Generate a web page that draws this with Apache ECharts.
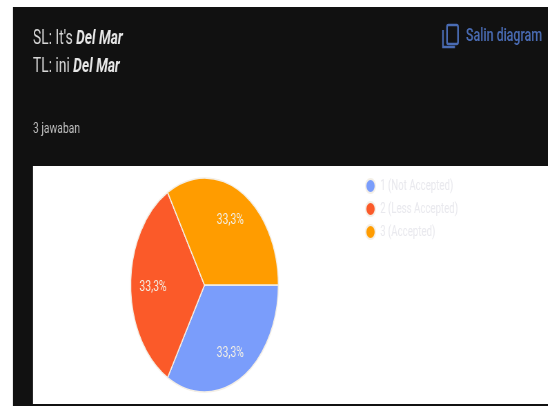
<!DOCTYPE html>
<html>
<head>
<meta charset="utf-8">
<style>
  html, body { margin: 0; padding: 0; width: 548px; height: 406px; overflow: hidden; background: #fff; }
  /* The response card is drawn wide, then condensed horizontally as a whole. */
  #chart { width: 794px; height: 406px; transform-origin: 0 0; transform: scaleX(0.69); }
</style>
<script src="https://cdn.jsdelivr.net/npm/echarts@6/dist/echarts.min.js"></script>
</head>
<body>
<div id="chart"></div>
<script>
const categories = ['1 (Not Accepted)', '2 (Less Accepted)', '3 (Accepted)'];
const responses = [1, 1, 1];
const sliceColors = ['#7a9dfb', '#fb5a29', '#ff9c00'];
const percentLabels = ['33,3%', '33,3%', '33,3%'];

const SQUEEZE = 0.69;
const sx = x => x / SQUEEZE;
const FONT = 'Roboto, sans-serif';
const PIE_RADIUS = 107;

const chart = echarts.init(document.getElementById('chart'), null, { renderer: 'canvas' });

const headingRich = {
  n: { fontFamily: FONT, fontSize: 20, fill: '#d8d8d8', fontWeight: 400 },
  i: { fontFamily: FONT, fontSize: 20, fill: '#e8e8e8', fontWeight: 700, fontStyle: 'italic' }
};

chart.setOption({
  animation: false,
  textStyle: { fontFamily: FONT },
  graphic: [
    { type: 'rect', z: 0, shape: { x: sx(13), y: 7, width: sx(535), height: 399 }, style: { fill: '#111111' } },
    { type: 'rect', z: 1, shape: { x: sx(33), y: 166, width: sx(515), height: 238 }, style: { fill: '#ffffff' } },
    {
      type: 'text', z: 2, x: sx(33), y: 39,
      style: { text: "{n|SL: It's }{i|Del Mar}", verticalAlign: 'middle', rich: headingRich }
    },
    {
      type: 'text', z: 2, x: sx(33), y: 67,
      style: { text: '{n|TL: ini }{i|Del Mar}', verticalAlign: 'middle', rich: headingRich }
    },
    {
      type: 'text', z: 2, x: sx(33), y: 129,
      style: { text: '3 jawaban', fontFamily: FONT, fontSize: 15, fill: '#c0c0c0', verticalAlign: 'middle' }
    },
    {
      type: 'text', z: 2, x: sx(466), y: 36,
      style: { text: 'Salin diagram', fontFamily: FONT, fontSize: 18, fontWeight: 500, fill: '#4a6cb4', verticalAlign: 'middle' }
    },
    // Copy icon: front sheet and the corner of the sheet behind it
    {
      type: 'rect', z: 2,
      shape: { x: sx(447), y: 25, width: sx(11), height: 19, r: 2 },
      style: { fill: 'none', stroke: '#4a6cb4', lineWidth: 2.4 }
    },
    {
      type: 'polyline', z: 2,
      shape: { points: [[sx(443), 30], [sx(443), 47], [sx(455), 47]] },
      style: { fill: 'none', stroke: '#4a6cb4', lineWidth: 2.4 }
    }
  ],
  legend: {
    orient: 'vertical',
    left: sx(365),
    top: 178,
    padding: 0,
    icon: 'circle',
    itemWidth: 14,
    itemHeight: 14,
    itemGap: 7,
    selectedMode: false,
    data: categories,
    textStyle: { fontFamily: FONT, fontSize: 14, lineHeight: 14, color: '#e9e9ee', padding: [0, 0, 0, 2] }
  },
  series: [{
    type: 'pie',
    center: [sx(204.5), 285],
    radius: PIE_RADIUS,
    startAngle: 0,
    clockwise: true,
    z: 3,
    itemStyle: { borderColor: '#f4efe6', borderWidth: 1.5 },
    emphasis: { disabled: true },
    labelLine: { show: false },
    label: {
      position: 'inside',
      fontFamily: FONT,
      fontSize: 15,
      color: '#f3f0e6',
      formatter: p => percentLabels[p.dataIndex]
    },
    // Push each percentage out from half radius towards the rim
    labelLayout: p => {
      const mid = (p.dataIndex + 0.5) * 2 * Math.PI / responses.length;
      return {
        dx: Math.cos(mid) * PIE_RADIUS * 0.17,
        dy: Math.sin(mid) * PIE_RADIUS * 0.19 + 2
      };
    },
    data: categories.map((name, i) => ({
      name, value: responses[i], itemStyle: { color: sliceColors[i] }
    }))
  }]
});
</script>
</body>
</html>
